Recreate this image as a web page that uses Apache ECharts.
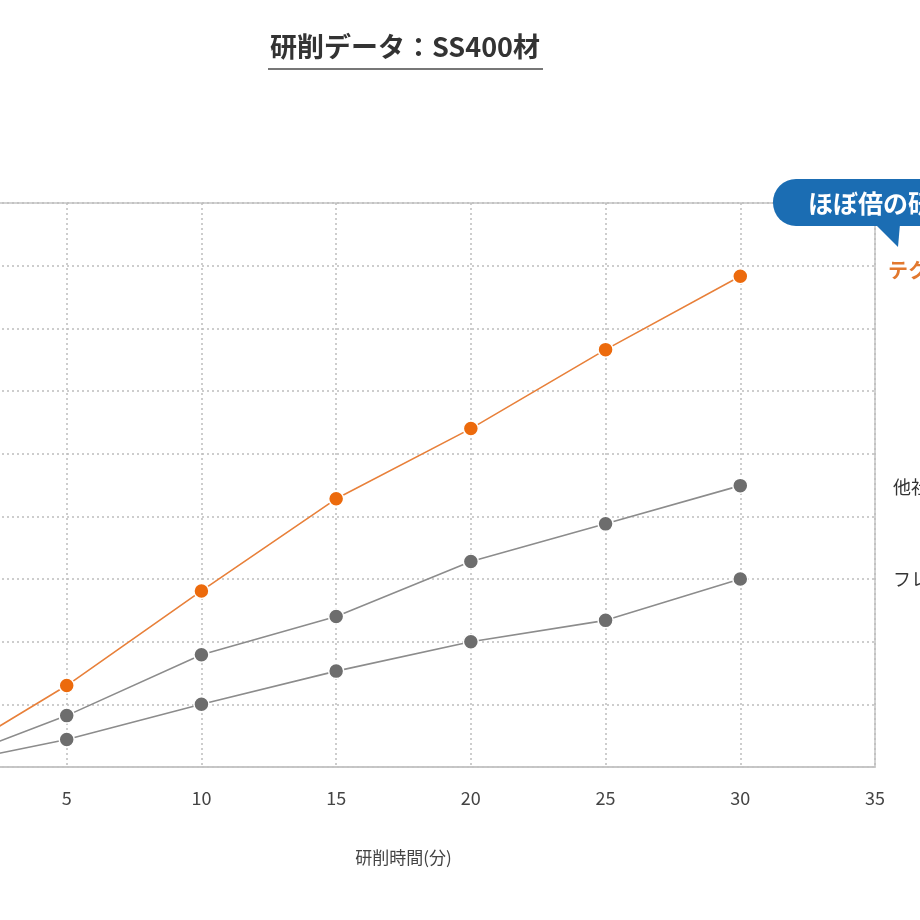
<!DOCTYPE html>
<html>
<head>
<meta charset="utf-8">
<script src="https://cdn.jsdelivr.net/npm/echarts@6/dist/echarts.min.js"></script>
<style>
  html, body { margin: 0; padding: 0; background: #fff; overflow: hidden; }
  /* the reference is cropped on the left: the plot starts off-screen */
  #chart { position: absolute; left: -68px; top: 0; width: 988px; height: 920px; }
</style>
</head>
<body>
<div id="chart"></div>
<script>
// 研削時間(分)
var minutes = [0, 5, 10, 15, 20, 25, 30];
// 研削量 (値は目盛り1つ=10で読み取り)
var techno = [0, 13, 28.1, 42.8, 54, 66.6, 78.3];
var otherSha = [0, 8.2, 17.9, 24, 32.8, 38.8, 44.9];
var flap = [0, 4.4, 10, 15.3, 20, 23.4, 30];
var seriesNames = ["テクノ製品", "他社製品", "フレキシブル"];

var SHIFT = 68; // screen x -> chart x

var chart = echarts.init(document.getElementById("chart"));

function pairs(vals) {
  return minutes.map(function (m, i) { return [m, vals[i]]; });
}

function lineSeries(name, vals, lineColor, dotColor) {
  return {
    name: name,
    type: "line",
    data: pairs(vals),
    symbol: "circle",
    symbolSize: 15,
    showSymbol: true,
    silent: true,
    lineStyle: { color: lineColor, width: 1.6 },
    itemStyle: { color: dotColor, borderColor: "#fff", borderWidth: 1.5 },
    z: 3
  };
}

var font = "'Noto Sans CJK JP', 'Noto Sans', sans-serif";

var option = {
  animation: false,
  backgroundColor: "#fff",
  textStyle: { fontFamily: font },
  grid: {
    left: 0,
    right: 45,
    top: 203,
    bottom: 153,
    outerBoundsMode: "none",
    containLabel: false,
    show: true,
    borderColor: "#c4c4c4",
    borderWidth: 1.5
  },
  xAxis: {
    type: "value",
    min: 0,
    max: 35,
    interval: 5,
    name: "研削時間(分)",
    nameLocation: "middle",
    nameGap: 82,
    nameTextStyle: { fontSize: 17, color: "#444", fontFamily: font },
    axisLine: { show: true, lineStyle: { color: "#c4c4c4", width: 1.5 } },
    axisTick: { show: false },
    axisLabel: { margin: 22, fontSize: 18, color: "#444", fontFamily: font },
    splitLine: { show: true, lineStyle: { color: "#bdbdbd", type: [2, 3], width: 1.5 } }
  },
  yAxis: {
    type: "value",
    min: 0,
    max: 90,
    interval: 10,
    axisLine: { show: false },
    axisTick: { show: false },
    axisLabel: { show: false },
    splitLine: { show: true, lineStyle: { color: "#bdbdbd", type: [2, 3], width: 1.5 } }
  },
  series: [
    lineSeries(seriesNames[1], otherSha, "#8c8c8c", "#6d6d6d"),
    lineSeries(seriesNames[2], flap, "#8c8c8c", "#6d6d6d"),
    lineSeries(seriesNames[0], techno, "#e8803a", "#ec6a0c")
  ],
  graphic: [
    {
      type: "text",
      x: 405 + SHIFT, y: 47,
      style: {
        text: "研削データ：SS400材",
        font: "bold 27px " + font,
        fill: "#333",
        textAlign: "center",
        textVerticalAlign: "middle"
      }
    },
    {
      type: "line",
      shape: { x1: 268 + SHIFT, y1: 69, x2: 543 + SHIFT, y2: 69 },
      style: { stroke: "#777", lineWidth: 2 }
    },
    {
      type: "rect",
      shape: { x: 773 + SHIFT, y: 179, width: 200, height: 47, r: 23 },
      style: { fill: "#1b6db3" },
      z: 10
    },
    {
      type: "polygon",
      shape: { points: [[875 + SHIFT, 224], [900 + SHIFT, 224], [898 + SHIFT, 247]] },
      style: { fill: "#1b6db3" },
      z: 10
    },
    {
      type: "text",
      x: 808 + SHIFT, y: 203,
      style: {
        text: "ほぼ倍の研削量",
        font: "bold 25px " + font,
        fill: "#fff",
        textVerticalAlign: "middle"
      },
      z: 11
    },
    {
      type: "text",
      x: 888 + SHIFT, y: 270,
      style: {
        text: seriesNames[0],
        font: "bold 20px " + font,
        fill: "#e2782e",
        textVerticalAlign: "middle"
      }
    },
    {
      type: "text",
      x: 893 + SHIFT, y: 487,
      style: {
        text: seriesNames[1],
        font: "18px " + font,
        fill: "#333",
        textVerticalAlign: "middle"
      }
    },
    {
      type: "text",
      x: 893 + SHIFT, y: 579,
      style: {
        text: seriesNames[2],
        font: "18px " + font,
        fill: "#333",
        textVerticalAlign: "middle"
      }
    }
  ]
};

chart.setOption(option);
</script>
</body>
</html>
